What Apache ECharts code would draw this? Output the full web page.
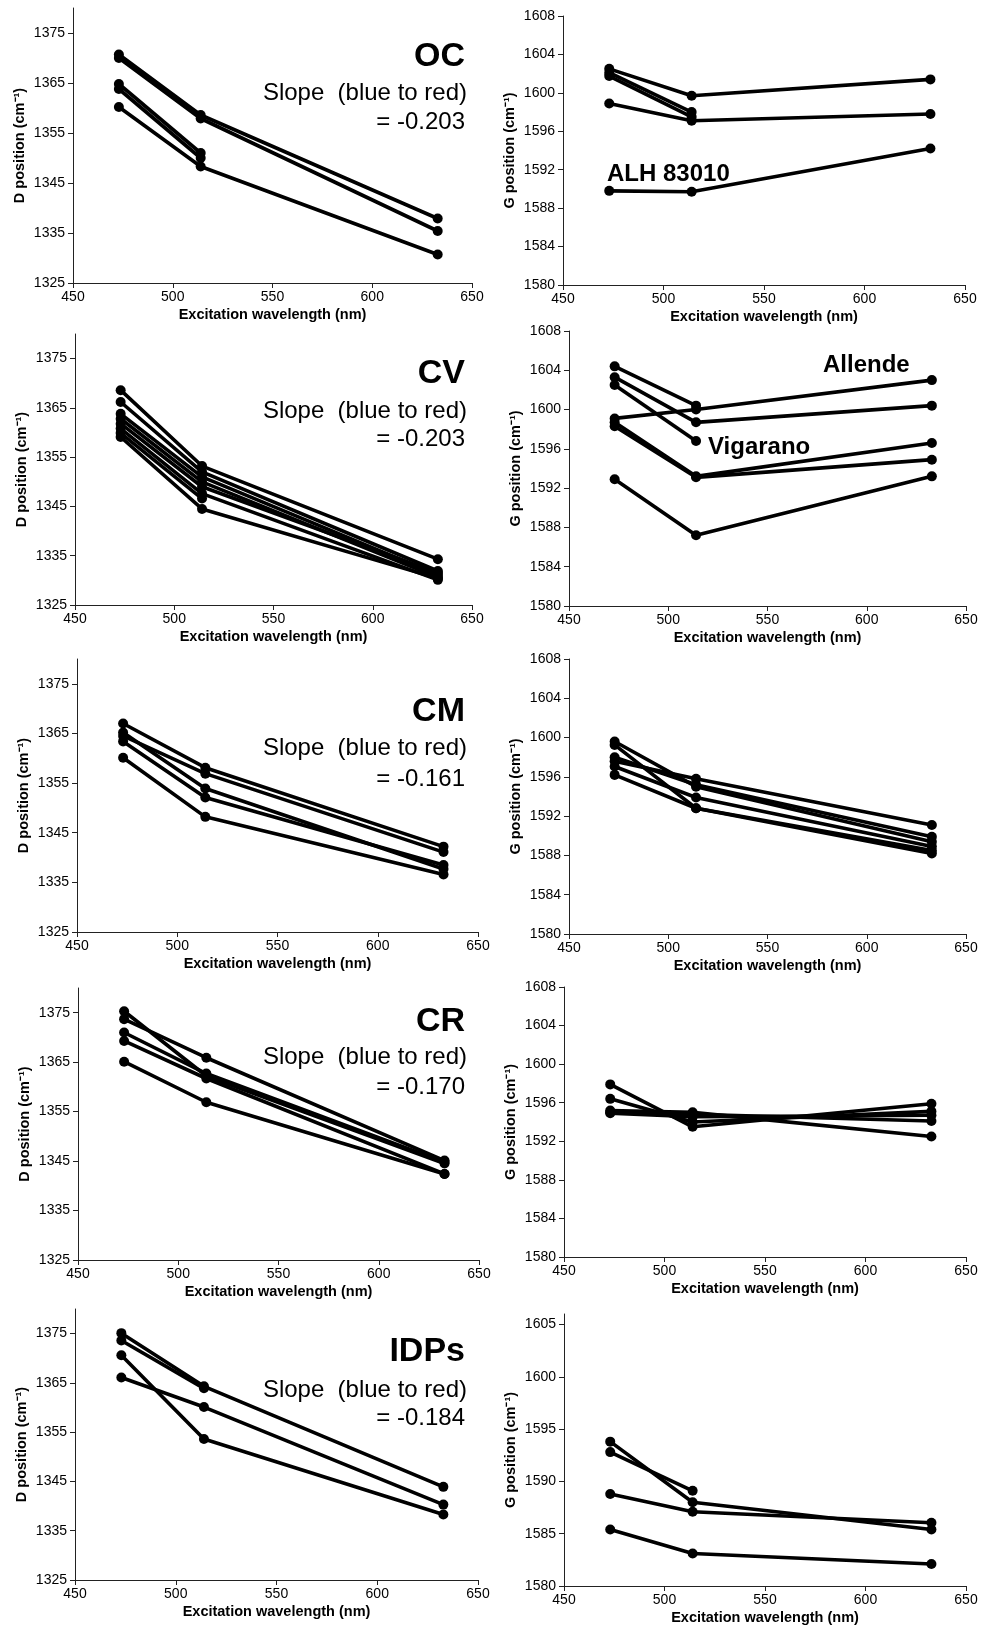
<!DOCTYPE html>
<html>
<head>
<meta charset="utf-8">
<script src="https://cdn.jsdelivr.net/npm/echarts@6/dist/echarts.min.js"></script>
<style>
html,body{margin:0;padding:0;background:#fff;}
#c{width:981px;height:1627px;}
</style>
</head>
<body>
<div id="c"></div>
<script>
// Excitation wavelengths (nm)
const wavelengths = [473, 514, 632.8];

// D band position (cm-1) per sample line: values at 473, 514, 633 nm
const ocD = [
  [1370.7, 1358.6, 1337.9],
  [1370.0, 1357.9, 1335.4],
  [1364.8, 1351.0, null],
  [1363.8, 1350.0, null],
  [1360.2, 1348.3, 1330.7]
];
const ocG = [
  [1602.5, 1599.7, 1601.4],
  [1602.1, 1598.0, null],
  [1601.75, 1597.5, null],
  [1598.9, 1597.1, 1597.8],
  [1589.8, 1589.7, 1594.2]
];
const cvD = [
  [1368.6, 1353.2, 1334.3],
  [1366.2, 1352.0, 1331.9],
  [1363.8, 1351.0, 1331.1],
  [1362.8, 1350.0, 1330.6],
  [1361.8, 1349.0, 1331.5],
  [1360.8, 1347.6, 1330.1],
  [1359.9, 1346.6, null],
  [1359.1, 1344.5, 1330.4]
];
const cvG = [
  [1604.4, 1600.4, null],
  [1599.1, 1600.0, 1603.0],
  [1603.3, 1598.7, 1600.4],
  [1602.5, 1596.8, null],
  [1598.7, 1593.2, 1596.6],
  [1598.3, 1593.1, 1594.9],
  [1592.9, 1587.2, 1593.2]
];
const cmD = [
  [1367.0, 1358.1, 1342.2],
  [1365.2, 1353.9, 1337.7],
  [1364.5, 1356.9, 1341.1],
  [1363.4, 1352.1, 1338.5],
  [1360.1, 1348.2, 1336.6]
];
const cmG = [
  [1599.6, 1595.0, 1589.4],
  [1599.25, 1592.8, 1588.5],
  [1597.6, 1595.8, 1591.1],
  [1597.05, 1593.9, 1588.9],
  [1596.2, 1592.8, 1588.2],
  [1598.0, 1595.2, 1589.9]
];
const crD = [
  [1375.3, 1362.2, 1344.5],
  [1373.7, 1365.9, 1345.1],
  [1371.0, 1362.7, 1344.8],
  [1369.3, 1361.7, 1342.4],
  [1365.1, 1356.9, 1342.4]
];
const crG = [
  [1597.9, 1593.5, 1595.9],
  [1596.4, 1594.0, 1595.1],
  [1595.2, 1595.0, 1592.5],
  [1594.9, 1594.55, 1594.7],
  [1595.0, 1594.8, 1594.1]
];
const idpD = [
  [1375.1, 1364.3, 1343.9],
  [1373.6, 1363.9, null],
  [1370.6, 1353.6, 1338.3],
  [1366.1, 1360.1, 1340.3]
];
const idpG = [
  [1593.8, 1588.0, 1585.4],
  [1592.8, 1589.1, null],
  [1588.8, 1587.1, 1586.05],
  [1585.4, 1583.1, 1582.1]
];

// Tick labels
const xTicks = [450, 500, 550, 600, 650];
const dTicks = [1325, 1335, 1345, 1355, 1365, 1375];
const gTicks = [1580, 1584, 1588, 1592, 1596, 1600, 1604, 1608];
const gTicksIDP = [1580, 1585, 1590, 1595, 1600, 1605];

const groups = ['OC', 'CV', 'CM', 'CR', 'IDPs'];
const slopes = ['= -0.203', '= -0.203', '= -0.161', '= -0.170', '= -0.184'];

const xName = 'Excitation wavelength (nm)';
const dName = 'D position (cm\u207B\u00B9)';
const gName = 'G position (cm\u207B\u00B9)';

const FONT = '"Liberation Sans", Arial, Helvetica, sans-serif';

const panels = [
  {data: ocD,  grid: [73, 8, 399, 275],   y: [1325, 1380, 10, dTicks],   name: dName},
  {data: ocG,  grid: [563, 16, 402, 269], y: [1580, 1608, 4, gTicks],    name: gName},
  {data: cvD,  grid: [75, 334, 397, 271], y: [1325, 1380, 10, dTicks],   name: dName},
  {data: cvG,  grid: [569, 331, 397, 275],y: [1580, 1608, 4, gTicks],    name: gName},
  {data: cmD,  grid: [77, 659, 401, 273], y: [1325, 1380, 10, dTicks],   name: dName},
  {data: cmG,  grid: [569, 659, 397, 275],y: [1580, 1608, 4, gTicks],    name: gName},
  {data: crD,  grid: [78, 988, 401, 272], y: [1325, 1380, 10, dTicks],   name: dName},
  {data: crG,  grid: [564, 987, 402, 270],y: [1580, 1608, 4, gTicks],    name: gName},
  {data: idpD, grid: [75, 1309, 403, 271],y: [1325, 1380, 10, dTicks],   name: dName},
  {data: idpG, grid: [564, 1314, 402, 272],y: [1580, 1606, 5, gTicksIDP], name: gName}
];

const plain = v => String(v);
const grids = [], xAxes = [], yAxes = [], series = [];
const axisLineStyle = {color: '#222', width: 1};
panels.forEach((p, i) => {
  grids.push({left: p.grid[0], top: p.grid[1], width: p.grid[2], height: p.grid[3], containLabel: false});
  xAxes.push({
    type: 'value', gridIndex: i, min: 450, max: 650, interval: 50,
    name: xName, nameLocation: 'middle', nameGap: 24,
    nameTextStyle: {fontFamily: FONT, fontWeight: 'bold', fontSize: 14.5, color: '#000'},
    axisLine: {show: true, lineStyle: axisLineStyle},
    axisTick: {show: true, length: 5, inside: false, lineStyle: axisLineStyle, customValues: xTicks},
    axisLabel: {fontFamily: FONT, fontSize: 14, color: '#000', margin: 7, formatter: plain, customValues: xTicks},
    splitLine: {show: false}
  });
  yAxes.push({
    type: 'value', gridIndex: i, min: p.y[0], max: p.y[1], interval: p.y[2],
    name: p.name, nameLocation: 'middle', nameGap: 46, nameRotate: 90,
    nameTextStyle: {fontFamily: FONT, fontWeight: 'bold', fontSize: 14.5, color: '#000'},
    axisLine: {show: true, lineStyle: axisLineStyle},
    axisTick: {show: true, length: 5, inside: false, lineStyle: axisLineStyle, customValues: p.y[3]},
    axisLabel: {fontFamily: FONT, fontSize: 14, color: '#000', margin: 8, formatter: plain, customValues: p.y[3]},
    splitLine: {show: false}
  });
  p.data.forEach(row => {
    const pts = [];
    row.forEach((v, k) => { if (v !== null) pts.push([wavelengths[k], v]); });
    series.push({
      type: 'line', xAxisIndex: i, yAxisIndex: i, data: pts,
      symbol: 'circle', symbolSize: 10, showSymbol: true,
      lineStyle: {color: '#000', width: 3.6},
      itemStyle: {color: '#000', borderWidth: 0},
      animation: false, silent: true, z: 2
    });
  });
});

// Panel annotations (group name, slope text)
const labelRows = [
  [57, 93, 122],
  [374, 411, 439],
  [712, 748, 779],
  [1022, 1057, 1087],
  [1352, 1390, 1418]
];
const graphics = [];
groups.forEach((g, i) => {
  const r = labelRows[i];
  graphics.push({type: 'text', x: 465, y: r[0], style: {text: g, fill: '#000', font: 'bold 34px ' + FONT, textAlign: 'right', textVerticalAlign: 'middle'}});
  graphics.push({type: 'text', x: 467, y: r[1], style: {text: 'Slope  (blue to red)', fill: '#000', font: '24px ' + FONT, textAlign: 'right', textVerticalAlign: 'middle'}});
  graphics.push({type: 'text', x: 465, y: r[2], style: {text: slopes[i], fill: '#000', font: '24px ' + FONT, textAlign: 'right', textVerticalAlign: 'middle'}});
});
graphics.push({type: 'text', x: 607, y: 174, style: {text: 'ALH 83010', fill: '#000', font: 'bold 24px ' + FONT, textAlign: 'left', textVerticalAlign: 'middle'}});
graphics.push({type: 'text', x: 823, y: 365, style: {text: 'Allende', fill: '#000', font: 'bold 24px ' + FONT, textAlign: 'left', textVerticalAlign: 'middle'}});
graphics.push({type: 'text', x: 708, y: 447, style: {text: 'Vigarano', fill: '#000', font: 'bold 24px ' + FONT, textAlign: 'left', textVerticalAlign: 'middle'}});

const chart = echarts.init(document.getElementById('c'), null, {renderer: 'canvas'});
chart.setOption({
  backgroundColor: '#fff',
  animation: false,
  grid: grids,
  xAxis: xAxes,
  yAxis: yAxes,
  series: series,
  graphic: graphics
});
</script>
</body>
</html>
